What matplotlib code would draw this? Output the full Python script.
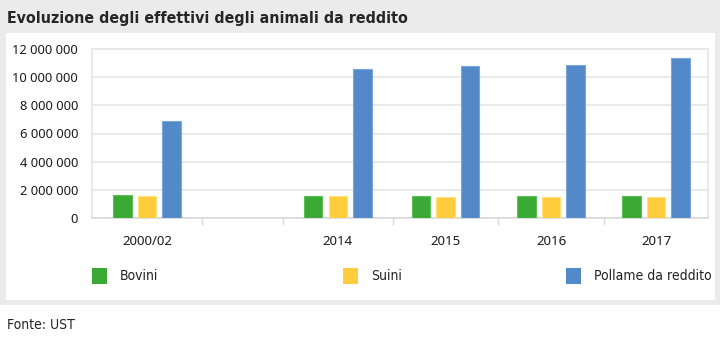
import numpy as np
import matplotlib
matplotlib.use('Agg')
import matplotlib.pyplot as plt
from matplotlib import font_manager as fm
from matplotlib.patches import Rectangle
from matplotlib.ticker import FuncFormatter

categories = ['2000/02', '', '2014', '2015', '2016', '2017']
series     = ['Bovini', 'Suini', 'Pollame da reddito']
bovini     = [1630000, np.nan, 1590000, 1590000, 1590000, 1540000]
suini      = [1540000, np.nan, 1570000, 1520000, 1520000, 1500000]
pollame    = [6910000, np.nan, 10550000, 10760000, 10860000, 11380000]

COLORS = ['#3aaa35', '#ffcd3c', '#5389c8']
EDGES  = ['#5cbf57', '#ffe07a', '#7aa6d9']
GRID   = '#e6e6e6'
W, H   = 720, 339

# pick a narrow face for the title / legend if one is installed
fonts = fm.fontManager.ttflist
names = {f.name for f in fonts}
if 'Liberation Sans Narrow' in names:
    COND = dict(family=['Liberation Sans Narrow', 'DejaVu Sans'])
elif any(f.name == 'DejaVu Sans' and f.stretch == 'condensed' for f in fonts):
    COND = dict(family=['DejaVu Sans'], stretch='condensed')
else:
    COND = dict(family=['Liberation Sans', 'DejaVu Sans'])
NUM = ['Noto Sans', 'DejaVu Sans']

# category slots (the empty one is narrower, as in the source)
slot_edges = np.array([0, 1.045, 1.81, 2.85, 3.85, 4.855, 5.84])
centers = (slot_edges[:-1] + slot_edges[1:]) / 2

fig = plt.figure(figsize=(W / 100, H / 100), dpi=100)
fig.patch.set_facecolor('white')
fig.patches.append(Rectangle((0, 1 - 305 / H), 1, 305 / H, transform=fig.transFigure,
                             facecolor='#ebebeb', edgecolor='none', zorder=-2))
fig.patches.append(Rectangle((6 / W, 1 - 300 / H), 709 / W, 267 / H, transform=fig.transFigure,
                             facecolor='white', edgecolor='none', zorder=-1))

fig.text(7 / W, 1 - 18 / H, 'Evoluzione degli effettivi degli animali da reddito',
         fontsize=11.4, fontweight='bold', color='#262626', va='center', ha='left', **COND)

ax = fig.add_axes([92 / W, 1 - 218 / H, 616 / W, 169 / H])
ax.set_zorder(2)
ax.set_facecolor('white')

bw, step = 0.175, 0.233
for i, (vals, c, ec) in enumerate(zip([bovini, suini, pollame], COLORS, EDGES)):
    ax.bar(centers + (i - 1) * step, vals, width=bw, color=c, edgecolor=ec,
           linewidth=0.8, zorder=3, label=series[i])

ax.set_xlim(slot_edges[0], slot_edges[-1])
ax.set_ylim(0, 12000000)
ax.set_yticks(np.arange(0, 12000001, 2000000))
ax.yaxis.set_major_formatter(FuncFormatter(lambda v, p: f'{int(v):,}'.replace(',', ' ')))
ax.grid(axis='y', color=GRID, linewidth=1.2, zorder=0)
ax.tick_params(axis='y', length=0, pad=10, labelsize=9.3, labelcolor='#1a1a1a')
for t in ax.get_yticklabels():
    t.set_family(NUM)

ax.set_xticks(centers)
ax.set_xticklabels(categories, family=NUM, fontsize=9.5, color='#1a1a1a')
ax.set_xticks(slot_edges[1:-1], minor=True)
ax.tick_params(axis='x', which='major', length=0, pad=12)
ax.tick_params(axis='x', which='minor', length=5, width=1, color='#d9d9d9')

for s in ['left', 'top', 'right']:
    ax.spines[s].set_color(GRID)
    ax.spines[s].set_linewidth(1.2)
ax.spines['bottom'].set_color('#d9d9d9')
ax.spines['bottom'].set_linewidth(1.2)

# legend
leg_x = [92, 343, 566]
for lx, name, c in zip(leg_x, series, COLORS):
    fig.patches.append(Rectangle((lx / W, 1 - 284 / H), 15 / W, 16 / H, transform=fig.transFigure,
                                 facecolor=c, edgecolor='none', zorder=2))
    fig.text((lx + 28) / W, 1 - 276 / H, name, fontsize=10,
             color='#222222', va='center', ha='left', **COND)

fig.text(7 / W, 1 - 325 / H, 'Fonte: UST', fontsize=10,
         color='#222222', va='center', ha='left', **COND)

fig.savefig('out.png', dpi=100)
